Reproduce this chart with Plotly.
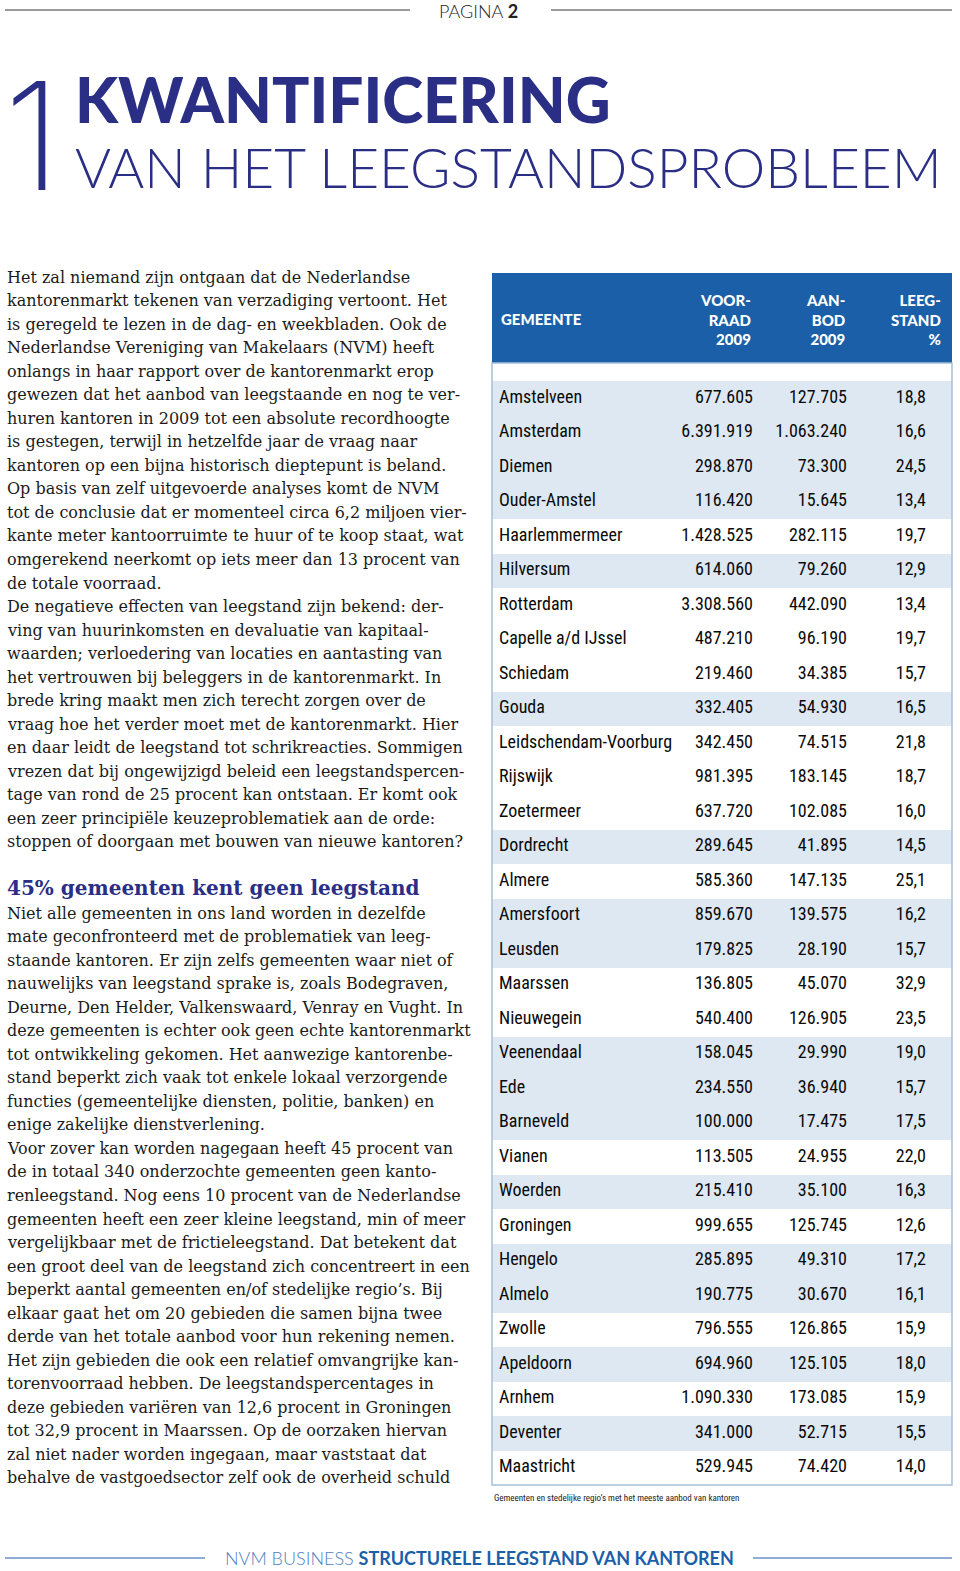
import plotly.graph_objects as go

W, H = 960, 1571

# ---------------- data ----------------
gemeenten = ["Amstelveen", "Amsterdam", "Diemen", "Ouder-Amstel", "Haarlemmermeer",
             "Hilversum", "Rotterdam", "Capelle a/d IJssel", "Schiedam", "Gouda",
             "Leidschendam-Voorburg", "Rijswijk", "Zoetermeer", "Dordrecht", "Almere",
             "Amersfoort", "Leusden", "Maarssen", "Nieuwegein", "Veenendaal", "Ede",
             "Barneveld", "Vianen", "Woerden", "Groningen", "Hengelo", "Almelo",
             "Zwolle", "Apeldoorn", "Arnhem", "Deventer", "Maastricht"]
voorraad_2009 = [677605, 6391919, 298870, 116420, 1428525, 614060, 3308560, 487210,
                 219460, 332405, 342450, 981395, 637720, 289645, 585360, 859670,
                 179825, 136805, 540400, 158045, 234550, 100000, 113505, 215410,
                 999655, 285895, 190775, 796555, 694960, 1090330, 341000, 529945]
aanbod_2009 = [127705, 1063240, 73300, 15645, 282115, 79260, 442090, 96190,
               34385, 54930, 74515, 183145, 102085, 41895, 147135, 139575,
               28190, 45070, 126905, 29990, 36940, 17475, 24955, 35100,
               125745, 49310, 30670, 126865, 125105, 173085, 52715, 74420]
leegstand_pct = [18.8, 16.6, 24.5, 13.4, 19.7, 12.9, 13.4, 19.7, 15.7, 16.5,
                 21.8, 18.7, 16.0, 14.5, 25.1, 16.2, 15.7, 32.9, 23.5, 19.0,
                 15.7, 17.5, 22.0, 16.3, 12.6, 17.2, 16.1, 15.9, 18.0, 15.9,
                 15.5, 14.0]
# region group (20 gebieden) -> alternating row shading
regio = [1, 1, 1, 1, 2, 3, 4, 4, 4, 5, 6, 6, 6, 7, 8, 9, 9, 10, 10, 11, 11, 11,
         12, 13, 14, 15, 15, 16, 17, 18, 19, 20]

header_labels = ["GEMEENTE", "VOOR-<br>RAAD<br>2009", "AAN-<br>BOD<br>2009", "LEEG-<br>STAND<br>%"]

body_block_1 = [
    "Het zal niemand zijn ontgaan dat de Nederlandse",
    "kantorenmarkt tekenen van verzadiging vertoont. Het",
    "is geregeld te lezen in de dag- en weekbladen. Ook de",
    "Nederlandse Vereniging van Makelaars (NVM) heeft",
    "onlangs in haar rapport over de kantorenmarkt erop",
    "gewezen dat het aanbod van leegstaande en nog te ver-",
    "huren kantoren in 2009 tot een absolute recordhoogte",
    "is gestegen, terwijl in hetzelfde jaar de vraag naar",
    "kantoren op een bijna historisch dieptepunt is beland.",
    "Op basis van zelf uitgevoerde analyses komt de NVM",
    "tot de conclusie dat er momenteel circa 6,2 miljoen vier-",
    "kante meter kantoorruimte te huur of te koop staat, wat",
    "omgerekend neerkomt op iets meer dan 13 procent van",
    "de totale voorraad.",
    "De negatieve effecten van leegstand zijn bekend: der-",
    "ving van huurinkomsten en devaluatie van kapitaal-",
    "waarden; verloedering van locaties en aantasting van",
    "het vertrouwen bij beleggers in de kantorenmarkt. In",
    "brede kring maakt men zich terecht zorgen over de",
    "vraag hoe het verder moet met de kantorenmarkt. Hier",
    "en daar leidt de leegstand tot schrikreacties. Sommigen",
    "vrezen dat bij ongewijzigd beleid een leegstandspercen-",
    "tage van rond de 25 procent kan ontstaan. Er komt ook",
    "een zeer principiële keuzeproblematiek aan de orde:",
    "stoppen of doorgaan met bouwen van nieuwe kantoren?",
]
subheading = "45% gemeenten kent geen leegstand"
body_block_2 = [
    "Niet alle gemeenten in ons land worden in dezelfde",
    "mate geconfronteerd met de problematiek van leeg-",
    "staande kantoren. Er zijn zelfs gemeenten waar niet of",
    "nauwelijks van leegstand sprake is, zoals Bodegraven,",
    "Deurne, Den Helder, Valkenswaard, Venray en Vught. In",
    "deze gemeenten is echter ook geen echte kantorenmarkt",
    "tot ontwikkeling gekomen. Het aanwezige kantorenbe-",
    "stand beperkt zich vaak tot enkele lokaal verzorgende",
    "functies (gemeentelijke diensten, politie, banken) en",
    "enige zakelijke dienstverlening.",
    "Voor zover kan worden nagegaan heeft 45 procent van",
    "de in totaal 340 onderzochte gemeenten geen kanto-",
    "renleegstand. Nog eens 10 procent van de Nederlandse",
    "gemeenten heeft een zeer kleine leegstand, min of meer",
    "vergelijkbaar met de frictieleegstand. Dat betekent dat",
    "een groot deel van de leegstand zich concentreert in een",
    "beperkt aantal gemeenten en/of stedelijke regio’s. Bij",
    "elkaar gaat het om 20 gebieden die samen bijna twee",
    "derde van het totale aanbod voor hun rekening nemen.",
    "Het zijn gebieden die ook een relatief omvangrijke kan-",
    "torenvoorraad hebben. De leegstandspercentages in",
    "deze gebieden variëren van 12,6 procent in Groningen",
    "tot 32,9 procent in Maarssen. Op de oorzaken hiervan",
    "zal niet nader worden ingegaan, maar vaststaat dat",
    "behalve de vastgoedsector zelf ook de overheid schuld",
]
caption = "Gemeenten en stedelijke regio’s met het meeste aanbod van kantoren"

# ---------------- styles ----------------
NAVY = "#2a2e85"
BLUE = "#1b5fa8"
LIGHT = "#dde8f3"
COND = "Roboto Condensed, Liberation Sans Narrow, Roboto, sans-serif"
SERIF = "DejaVu Serif, serif"
GEO = "Lato, Inter, sans-serif"


def px(x):
    return x / W


def py(y):
    return 1 - y / H


def nl_int(v):
    return f"{v:,}".replace(",", ".")


def nl_dec(v):
    return f"{v:.1f}".replace(".", ",")


# table geometry (pixels)
TX0, TX1 = 492, 952
HEAD_Y0, HEAD_Y1 = 273, 363
ROW_Y0, ROW_Y1 = 381, 1485
TW = TX1 - TX0

fig = go.Figure()

row_colors = [LIGHT if r % 2 == 1 else "white" for r in regio]
fig.add_trace(go.Bar(
    y=gemeenten, x=[TW] * len(gemeenten), orientation="h", width=1,
    marker=dict(color=row_colors, line=dict(width=0)), hoverinfo="skip",
    showlegend=False))

cell_font = dict(family=COND, size=18, color="#0a0a0a")
fig.add_trace(go.Scatter(
    x=[7] * len(gemeenten), y=gemeenten, text=gemeenten, mode="text",
    textposition="middle right", textfont=cell_font, hoverinfo="skip", showlegend=False))
fig.add_trace(go.Scatter(
    x=[261] * len(gemeenten), y=gemeenten, text=[nl_int(v) for v in voorraad_2009],
    mode="text", textposition="middle left", textfont=cell_font, hoverinfo="skip",
    showlegend=False))
fig.add_trace(go.Scatter(
    x=[355] * len(gemeenten), y=gemeenten, text=[nl_int(v) for v in aanbod_2009],
    mode="text", textposition="middle left", textfont=cell_font, hoverinfo="skip",
    showlegend=False))
fig.add_trace(go.Scatter(
    x=[434] * len(gemeenten), y=gemeenten, text=[nl_dec(v) for v in leegstand_pct],
    mode="text", textposition="middle left", textfont=cell_font, hoverinfo="skip",
    showlegend=False))

fig.update_xaxes(domain=[px(TX0), px(TX1)], range=[0, TW], visible=False, fixedrange=True)
fig.update_yaxes(domain=[py(ROW_Y1), py(ROW_Y0)], type="category",
                 categoryorder="array", categoryarray=gemeenten,
                 range=[len(gemeenten) - 0.5, -0.5], visible=False, fixedrange=True)

shapes = []
# header page lines
shapes.append(dict(type="line", xref="paper", yref="paper", x0=px(5), x1=px(410),
                   y0=py(10), y1=py(10), line=dict(color="#7a7a7a", width=1.5)))
shapes.append(dict(type="line", xref="paper", yref="paper", x0=px(551), x1=px(952),
                   y0=py(10), y1=py(10), line=dict(color="#7a7a7a", width=1.5)))
# footer lines
shapes.append(dict(type="line", xref="paper", yref="paper", x0=px(5), x1=px(205),
                   y0=py(1558), y1=py(1558), line=dict(color="#6b93c6", width=1.5)))
shapes.append(dict(type="line", xref="paper", yref="paper", x0=px(753), x1=px(952),
                   y0=py(1558), y1=py(1558), line=dict(color="#6b93c6", width=1.5)))
# table header box
shapes.append(dict(type="rect", xref="paper", yref="paper", x0=px(TX0), x1=px(TX1),
                   y0=py(HEAD_Y1), y1=py(HEAD_Y0), fillcolor=BLUE, line=dict(width=0),
                   layer="below"))
# table outline
shapes.append(dict(type="rect", xref="paper", yref="paper", x0=px(TX0), x1=px(TX1),
                   y0=py(ROW_Y1), y1=py(HEAD_Y1), fillcolor="rgba(0,0,0,0)",
                   line=dict(color="#a7bfd8", width=1.5), layer="above"))

ann = []
# page header
ann.append(dict(text="PAGINA <b>2</b>", x=px(478), y=py(11), xref="paper", yref="paper",
                showarrow=False, xanchor="center", yanchor="middle",
                font=dict(family=GEO, size=18, color="#222222", weight=300)))
# big chapter number
ann.append(dict(text="1", x=px(2), y=py(135), xref="paper", yref="paper",
                showarrow=False, xanchor="left", yanchor="middle",
                font=dict(family="Inter, Lato, sans-serif", size=150, color=NAVY, weight=200)))
ann.append(dict(text="KWANTIFICERING", x=px(73), y=py(99), xref="paper", yref="paper",
                showarrow=False, xanchor="left", yanchor="middle",
                font=dict(family=GEO, size=62, color=NAVY, weight=900)))
ann.append(dict(text="VAN HET LEEGSTANDSPROBLEEM", x=px(73), y=py(167), xref="paper", yref="paper",
                showarrow=False, xanchor="left", yanchor="middle",
                font=dict(family=GEO, size=55, color=NAVY, weight=300)))

LINE = 23.54
body_font = dict(family=SERIF, size=16, color="#1b1b1b")
for i, line in enumerate(body_block_1):
    ann.append(dict(text=line, x=px(5), y=py(277 + i * LINE), xref="paper", yref="paper",
                    showarrow=False, xanchor="left", yanchor="middle", font=body_font))
ann.append(dict(text=f"<b>{subheading}</b>", x=px(5), y=py(888), xref="paper", yref="paper",
                showarrow=False, xanchor="left", yanchor="middle",
                font=dict(family=SERIF, size=20, color=NAVY)))
for i, line in enumerate(body_block_2):
    ann.append(dict(text=line, x=px(5), y=py(913 + i * LINE), xref="paper", yref="paper",
                    showarrow=False, xanchor="left", yanchor="middle", font=body_font))

# table header labels
head_font = dict(family=GEO, size=15, color="white", weight=900)
ann.append(dict(text=header_labels[0], x=px(499), y=py(319), xref="paper", yref="paper",
                showarrow=False, xanchor="left", yanchor="middle", font=head_font))
for lab, xr in zip(header_labels[1:], [753, 847, 943]):
    ann.append(dict(text=lab, x=px(xr), y=py(319), xref="paper", yref="paper",
                    showarrow=False, xanchor="right", yanchor="middle", align="right",
                    font=head_font))

ann.append(dict(text=caption, x=px(492), y=py(1498), xref="paper", yref="paper",
                showarrow=False, xanchor="left", yanchor="middle",
                font=dict(family=COND, size=9, color="#222222")))

# footer
ann.append(dict(text="<span style='color:#4f80c0'>NVM BUSINESS</span> <b>STRUCTURELE LEEGSTAND VAN KANTOREN</b>",
                x=px(479), y=py(1558), xref="paper", yref="paper",
                showarrow=False, xanchor="center", yanchor="middle",
                font=dict(family=GEO, size=18, color=BLUE, weight=300)))

fig.update_layout(
    width=W, height=H, margin=dict(l=0, r=0, t=0, b=0),
    paper_bgcolor="white", plot_bgcolor="rgba(0,0,0,0)",
    shapes=shapes, annotations=ann, showlegend=False, bargap=0,
)

fig.write_html("out.html", config={"displayModeBar": False},
               post_script="document.body.style.margin='0px';document.body.style.overflow='hidden';")
